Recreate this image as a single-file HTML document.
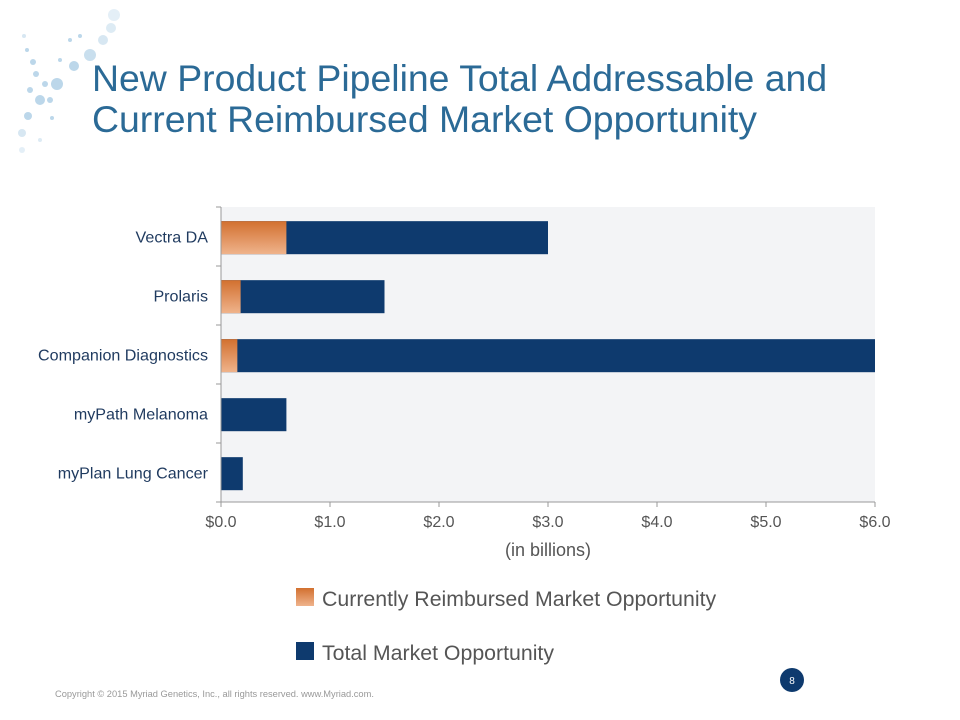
<!DOCTYPE html>
<html><head><meta charset="utf-8"><style>
body{margin:0;background:#fff;font-family:"Liberation Sans",sans-serif;}
#wrap{position:relative;width:960px;height:720px;overflow:hidden;}
</style></head><body>
<div id="wrap">
<svg width="960" height="720" xmlns="http://www.w3.org/2000/svg">
<defs>
<linearGradient id="og" x1="0" y1="0" x2="0" y2="1"><stop offset="0" stop-color="#d2702f"/><stop offset="1" stop-color="#efb38c"/></linearGradient>
</defs>
<g fill="#bcd7ea">
<circle cx="114" cy="15" r="6" opacity="0.4"/><circle cx="111" cy="28" r="5" opacity="0.5"/><circle cx="103" cy="40" r="5" opacity="0.6"/><circle cx="90" cy="55" r="6" opacity="0.8"/><circle cx="74" cy="66" r="5"/><circle cx="57" cy="84" r="6"/><circle cx="40" cy="100" r="5"/><circle cx="28" cy="116" r="4"/><circle cx="22" cy="133" r="4" opacity="0.6"/><circle cx="22" cy="150" r="3" opacity="0.4"/>
<circle cx="33" cy="62" r="3"/><circle cx="45" cy="84" r="3"/><circle cx="50" cy="100" r="3"/><circle cx="36" cy="74" r="3"/><circle cx="30" cy="90" r="3"/><circle cx="27" cy="50" r="2"/><circle cx="24" cy="36" r="2" opacity="0.6"/><circle cx="60" cy="60" r="2"/><circle cx="70" cy="40" r="2"/><circle cx="80" cy="36" r="2"/><circle cx="52" cy="118" r="2"/><circle cx="40" cy="140" r="2" opacity="0.5"/>
</g>
<text x="92" y="91" font-size="37.4" fill="#2b6a96">New Product Pipeline Total Addressable and</text>
<text x="92" y="132" font-size="37.4" fill="#2b6a96">Current Reimbursed Market Opportunity</text>
<rect x="221" y="207" width="654" height="295" fill="#f3f4f6"/>
<g id="chart"></g>
<text x="548" y="556" font-size="18" fill="#555" text-anchor="middle">(in billions)</text>
<rect x="296" y="588" width="18" height="18" fill="url(#og)"/>
<text x="322" y="606" font-size="21.3" fill="#555">Currently Reimbursed Market Opportunity</text>
<rect x="296" y="642" width="18" height="18" fill="#0e3a6e"/>
<text x="322" y="660" font-size="21.3" fill="#555">Total Market Opportunity</text>
<circle cx="792" cy="680" r="12" fill="#0e3a6e"/>
<text x="792" y="684" font-size="10" fill="#fff" text-anchor="middle">8</text>
<text x="55" y="697" font-size="9.3" fill="#999">Copyright © 2015 Myriad Genetics, Inc., all rights reserved.  www.Myriad.com.</text>
</svg>
</div>
<script>
const categories=["Vectra DA","Prolaris","Companion Diagnostics","myPath Melanoma","myPlan Lung Cancer"];
const totalValues=[3.0,1.5,6.0,0.6,0.2];
const reimbursedValues=[0.6,0.18,0.15,0,0];
const tickValues=[0,1,2,3,4,5,6];
const tickLabels=["$0.0","$1.0","$2.0","$3.0","$4.0","$5.0","$6.0"];
const NS="http://www.w3.org/2000/svg";
const g=document.getElementById('chart');
const X0=221,X1=875,Y0=207,Y1=502,XMAX=6;
const xs=v=>X0+v/XMAX*(X1-X0);
const band=(Y1-Y0)/categories.length;
const ys=i=>Y0+i*band;
function mk(t,a){const e=document.createElementNS(NS,t);for(const k in a)e.setAttribute(k,a[k]);g.appendChild(e);return e;}
categories.forEach((c,i)=>{
  const y=ys(i)+band*0.24,h=band*0.56;
  const b=mk('rect',{x:xs(0),y:y,width:xs(totalValues[i])-xs(0),height:h,fill:'#0e3a6e'});
  
  
  if(reimbursedValues[i]>0){
    const o=mk('rect',{x:xs(0),y:y,width:xs(reimbursedValues[i])-xs(0),height:h,fill:'url(#og)'});
    
    
  }
  const t=mk('text',{x:208,y:ys(i)+band/2+6,'font-size':16.1,fill:'#1f3a5f','text-anchor':'end'});
  t.textContent=c;
  
  
});
const ax=mk('path',{d:`M${X0} ${Y0}V${Y1}H${X1}`,stroke:'#999',fill:'none','stroke-width':1});


for(let i=0;i<=categories.length;i++){
  const tk=mk('line',{x1:X0-5,x2:X0,y1:ys(i),y2:ys(i),stroke:'#999'});
  
  
}
tickValues.forEach((v,i)=>{
  const tk=mk('line',{x1:xs(v),x2:xs(v),y1:Y1,y2:Y1+5,stroke:'#999'});
  
  
  const t=mk('text',{x:xs(v),y:Y1+25,'font-size':16,fill:'#555','text-anchor':'middle'});
  t.textContent=tickLabels[i];
  
  
});
</script>
</body></html>
